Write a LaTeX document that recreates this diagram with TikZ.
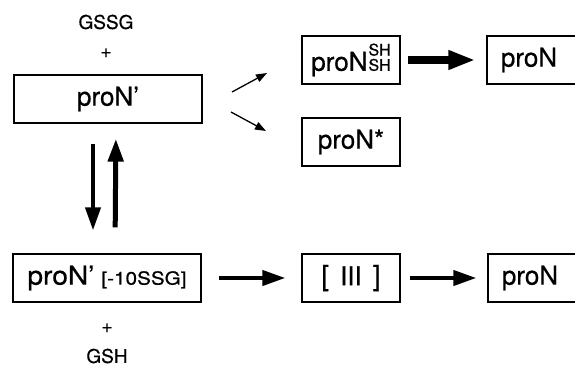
\documentclass[tikz,border=0pt]{standalone}
\usepackage{fontspec}
\setmainfont{TeX Gyre Heros}[FakeBold=0.6]
\usetikzlibrary{arrows.meta}

\tikzset{
  box/.style={draw, line width=1.3pt, minimum width=98pt, minimum height=48pt,
    inner sep=0pt, font=\fontsize{26}{26}\selectfont},
  widebox/.style={box, minimum width=188pt},
  reagent/.style={font=\fontsize{19}{19}\selectfont},
  thin/.style={line width=1.3pt, -{Triangle[length=11pt,width=8pt]}},
  fat/.style={line width=8pt, -{Triangle[length=27pt,width=18pt]}},
  mid/.style={line width=4pt, -{Triangle[length=23pt,width=15pt]}},
}

\begin{document}
\begin{tikzpicture}[x=1pt,y=-1pt]
  \useasboundingbox (0,0) rectangle (575,367);

  % left column
  \node[reagent] (gssg) at (106,22) {GSSG};
  \node[reagent] (plusa) at (106,53) {+};
  \node[widebox] (proNp) at (108,99) {proN’};
  \node[widebox] (proNq) at (107,278) {\scalebox{1.08}[1]{proN’}\hspace{7pt}{\fontsize{18}{18}\selectfont\scalebox{1.15}[1]{[-10SSG]}}};
  \node[reagent] (plusb) at (107,328) {+};
  \node[reagent] (gsh) at (107,356) {GSH};

  % right part
  \node[box] (proNsh) at (351,60) {proN\hspace{1pt}{\fontsize{16}{18}\selectfont\shortstack[l]{SH\\SH}}};
  \node[box] (proNstar) at (351,142) {proN*};
  \node[box] (proNa) at (536,60) {proN\hspace*{14pt}};
  \node[box] (three) at (351,278) {{\fontsize{28}{28}\selectfont[}\hspace{11pt}III\hspace{11pt}{\fontsize{28}{28}\selectfont]}};
  \node[box] (proNb) at (537,278) {proN\hspace*{14pt}};

  % free ends of the small arrows
  \coordinate (upa) at (232,92);
  \coordinate (upb) at (267,73);
  \coordinate (dna) at (231,112);
  \coordinate (dnb) at (266,131);
  \draw[thin] (upa) -- (upb);
  \draw[thin] (dna) -- (dnb);

  \draw[fat, shorten <=7pt, shorten >=11pt] (proNsh) -- (proNa);
  \draw[mid, shorten <=17pt, shorten >=16pt] (proNq) -- (three);
  \draw[mid, shorten <=9pt, shorten >=11pt] (three) -- (proNb);

  % equilibrium
  \draw[mid, line width=4pt, shorten <=20pt, shorten >=23pt]
    ([xshift=-15pt]proNp.south) -- ([xshift=-14pt]proNq.north);
  \draw[mid, line width=5pt, shorten <=26pt, shorten >=15pt]
    ([xshift=8pt]proNq.north) -- ([xshift=8pt]proNp.south);
\end{tikzpicture}
\end{document}
